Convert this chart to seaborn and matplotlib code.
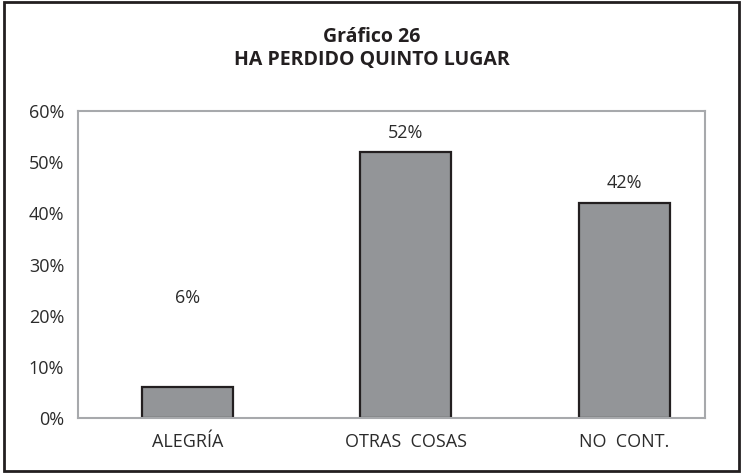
import matplotlib
matplotlib.use("Agg")
import matplotlib.pyplot as plt
import seaborn as sns
import pandas as pd
from matplotlib.patches import Rectangle

categories = ["ALEGRÍA", "OTRAS  COSAS", "NO  CONT."]
values = [6, 52, 42]
labels = ["6%", "52%", "42%"]
label_offsets_px = [89, 19, 20]
yticks = [0, 10, 20, 30, 40, 50, 60]
ytick_labels = ["0%", "10%", "20%", "30%", "40%", "50%", "60%"]

sns.set_theme(style="white")
plt.rcParams["font.family"] = ["Open Sans", "DejaVu Sans"]

df = pd.DataFrame({"cat": categories, "val": values})

fig = plt.figure(figsize=(7.43, 4.73), dpi=100)
ax = fig.add_axes([0.105, 0.1163, 0.844, 0.649])

sns.barplot(data=df, x="cat", y="val", color="#939598", width=0.415,
            edgecolor="#231f20", linewidth=1.6, saturation=1, ax=ax)

ax.set_xlim(-0.5, 2.37)
ax.set_ylim(0, 60)
ax.set_yticks(yticks)
ax.set_yticklabels(ytick_labels)
ax.set_xlabel("")
ax.set_ylabel("")
ax.tick_params(axis="both", length=0, labelsize=13, colors="#2b2b2b")
ax.tick_params(axis="y", pad=10)
ax.tick_params(axis="x", pad=11)
for s in ax.spines.values():
    s.set_visible(True)
    s.set_color("#a7a9ac")
    s.set_linewidth(1.5)

for i, (v, lab, off) in enumerate(zip(values, labels, label_offsets_px)):
    ax.annotate(lab, xy=(i, v), xytext=(0, off * 0.72), textcoords="offset points",
                ha="center", va="center", fontsize=13, color="#2b2b2b")

fig.text(0.5, 0.922, "Gráfico 26", ha="center", va="center",
         fontsize=14, fontweight="bold", color="#231f20")
fig.text(0.5, 0.873, "HA PERDIDO QUINTO LUGAR", ha="center", va="center",
         fontsize=14, fontweight="bold", color="#231f20")

fig.patches.append(Rectangle((0.005, 0.005), 0.99, 0.99, transform=fig.transFigure,
                             fill=False, edgecolor="#231f20", linewidth=2))

fig.savefig("out.png", dpi=100)
